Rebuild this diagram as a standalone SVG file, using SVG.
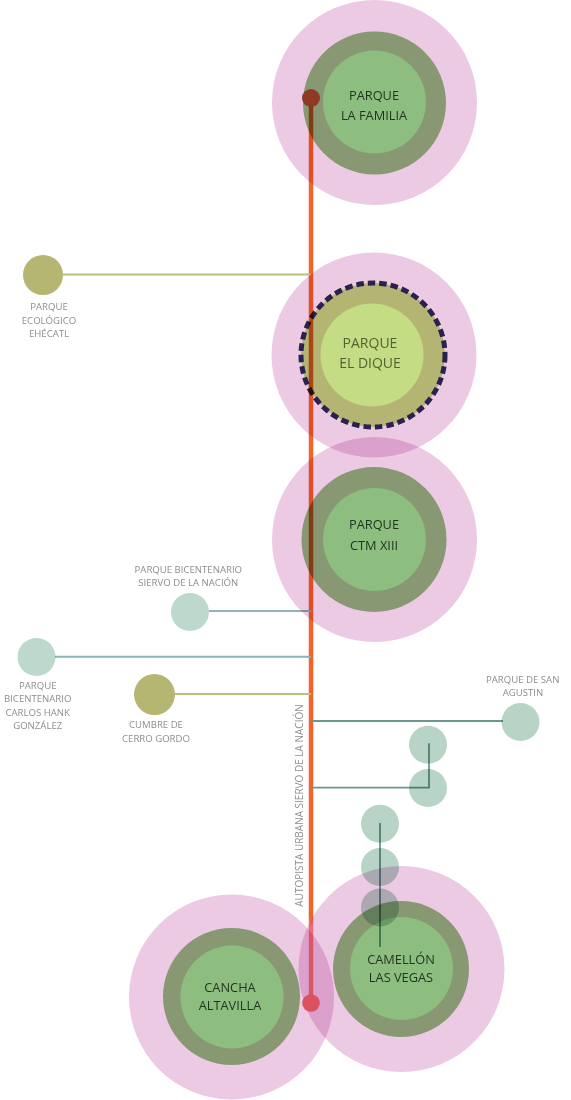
<svg xmlns="http://www.w3.org/2000/svg" width="571" height="1100" viewBox="0 0 571 1100">
<defs>
<linearGradient id="roadGrad" gradientUnits="userSpaceOnUse" x1="0" y1="98" x2="0" y2="1003">
<stop offset="0" stop-color="#F0642A"/>
<stop offset="0.905" stop-color="#F0642A"/>
<stop offset="0.915" stop-color="#FA8A85"/>
<stop offset="1" stop-color="#FA8A85"/>
</linearGradient>
<style>
.halo{mix-blend-mode:multiply}
.pink{fill:#EDCAE4}
.ring{fill:#889873}
.inner{fill:#8DBD7F}
.ringO{fill:#B4B473}
.innerO{fill:#C4DC83}
.big{font-family:"Open Sans","Liberation Sans",sans-serif;font-size:12.8px;fill:#1E341C;text-anchor:middle}
.dique{font-family:"Open Sans","Liberation Sans",sans-serif;font-size:14px;fill:#56602F;text-anchor:middle}
.lbl{font-family:"Open Sans","Liberation Sans",sans-serif;font-size:9.6px;fill:#8E8E8E;text-anchor:middle}
.road{font-family:"Open Sans","Liberation Sans",sans-serif;font-size:10px;fill:#8E8E8E;text-anchor:middle}
.mul{mix-blend-mode:multiply}
.olive{fill:#B5B672}
.teal{fill:#BDD8CD}
.teal2{fill:#B8D4C7}
.lnO{stroke:#B8C07E;stroke-width:2;fill:none}
.lnT{stroke:#8DB4B6;stroke-width:2;fill:none}
.lnT2{stroke:#6B978F;stroke-width:1.8;fill:none}
</style>
</defs>
<rect width="571" height="1100" fill="#FFFFFF"/>

<g id="node-parque-la-familia">
<g class="halo">
<circle class="pink" cx="374.5" cy="102.5" r="102.5"/>
<circle class="ring" cx="374.5" cy="103" r="71.5"/>
<circle class="inner" cx="374.5" cy="102" r="51.5"/>
</g>
<text class="big" x="374" y="99.6">PARQUE</text>
<text class="big" x="374" y="119.6">LA FAMILIA</text>
</g>

<g id="node-parque-el-dique">
<g class="halo">
<circle class="pink" cx="374" cy="355" r="102.5"/>
<circle class="ringO" cx="373" cy="355" r="72"/>
<circle class="innerO" cx="372" cy="355" r="51.5"/>
<circle cx="373" cy="355" r="72" fill="none" stroke="#2B2150" stroke-width="5" stroke-dasharray="7.5 4"/>
</g>
<text class="dique" x="370" y="348">PARQUE</text>
<text class="dique" x="370" y="368">EL DIQUE</text>
</g>

<g id="node-parque-ctm-xiii">
<g class="halo">
<circle class="pink" cx="374.5" cy="539.5" r="102.5"/>
<circle class="ring" cx="374" cy="539.5" r="72.5"/>
<circle class="inner" cx="374.5" cy="539.5" r="51.5"/>
</g>
<text class="big" x="374" y="528.6">PARQUE</text>
<text class="big" x="374" y="549.6">CTM XIII</text>
</g>

<g id="node-cancha-altavilla">
<g class="halo">
<circle class="pink" cx="231.5" cy="997" r="102.5"/>
<circle class="ring" cx="231.5" cy="996.5" r="68.5"/>
<circle class="inner" cx="232" cy="997" r="51.5"/>
</g>
<text class="big" x="230" y="991.6">CANCHA</text>
<text class="big" x="230" y="1009.6">ALTAVILLA</text>
</g>

<g id="node-camellon-las-vegas">
<g class="halo">
<circle class="pink" cx="401.5" cy="969" r="103"/>
<circle class="ring" cx="401" cy="969" r="68"/>
<circle class="inner" cx="401.5" cy="968.5" r="51.5"/>
</g>
<text class="big" x="401" y="963.6">CAMELLÓN</text>
<text class="big" x="401" y="981.6">LAS VEGAS</text>
</g>

<g id="connectors" class="mul">
<line x1="311" y1="98" x2="311" y2="1003" stroke="url(#roadGrad)" stroke-width="4.5"/>
<line class="lnO" x1="63" y1="274.5" x2="311" y2="274.5"/>
<line class="lnT" x1="209" y1="611" x2="311" y2="611"/>
<line class="lnT" x1="55" y1="656.7" x2="311" y2="656.7"/>
<line class="lnO" x1="175" y1="694" x2="311" y2="694"/>
<line class="lnT2" x1="311" y1="721" x2="503" y2="721"/>
<polyline class="lnT2" points="311,787.7 429,787.7 429,743.3"/>
<line class="lnT2" x1="380" y1="823" x2="380" y2="947"/>
</g>

<g id="node-parque-ecologico-ehecatl">
<circle class="olive mul" cx="43" cy="275" r="20"/>
<text class="lbl" x="49" y="310">PARQUE</text>
<text class="lbl" x="49" y="323.5">ECOLÓGICO</text>
<text class="lbl" x="49" y="336.8">EHÉCATL</text>
</g>

<g id="node-parque-bicentenario-siervo">
<circle class="teal mul" cx="190" cy="612" r="19"/>
<text class="lbl" x="188.3" y="573.4">PARQUE BICENTENARIO</text>
<text class="lbl" x="188.3" y="586.4">SIERVO DE LA NACIÓN</text>
</g>

<g id="node-parque-bicentenario-carlos-hank">
<circle class="teal mul" cx="36.5" cy="657" r="19"/>
<text class="lbl" x="37.7" y="689">PARQUE</text>
<text class="lbl" x="37.7" y="702.2">BICENTENARIO</text>
<text class="lbl" x="37.7" y="715.7">CARLOS HANK</text>
<text class="lbl" x="37.7" y="729">GONZÁLEZ</text>
</g>

<g id="node-cumbre-de-cerro-gordo">
<circle class="olive mul" cx="154.5" cy="694.5" r="20.5"/>
<text class="lbl" x="156" y="728.4">CUMBRE DE</text>
<text class="lbl" x="156" y="741.6">CERRO GORDO</text>
</g>

<g id="node-parque-de-san-agustin">
<circle class="teal2 mul" cx="520.5" cy="722" r="19"/>
<text class="lbl" x="522.7" y="683.4">PARQUE DE SAN</text>
<text class="lbl" x="523" y="696.1">AGUSTIN</text>
</g>

<g id="node-circle-a"><circle class="teal2 mul" cx="428" cy="744.7" r="19"/></g>
<g id="node-circle-b"><circle class="teal2 mul" cx="428" cy="788" r="19"/></g>
<g id="node-circle-c"><circle class="teal2 mul" cx="380" cy="823.7" r="19"/></g>
<g id="node-circle-d"><circle class="teal2 mul" cx="380" cy="867" r="19"/></g>
<g id="node-circle-e"><circle class="teal2 mul" cx="380" cy="907.5" r="19"/></g>

<g id="road-label">
<text class="road" transform="translate(303,805.5) rotate(-90)" x="0" y="0">AUTOPISTA URBANA SIERVO DE LA NACIÓN</text>
</g>

<g id="endpoints">
<circle cx="311" cy="98" r="9" fill="#8E3A24"/>
<circle cx="311" cy="1003" r="8.8" fill="#DC505F"/>
</g>
</svg>
